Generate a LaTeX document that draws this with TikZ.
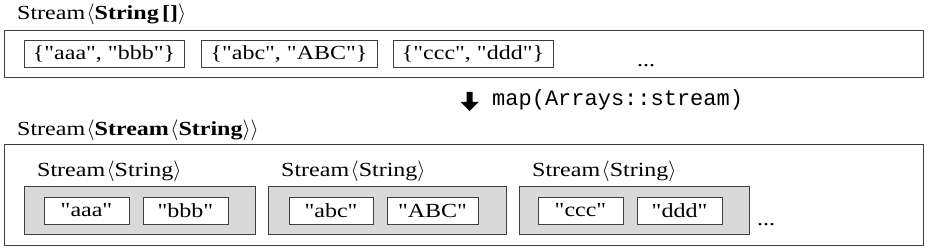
\documentclass[tikz,border=0pt]{standalone}
\usepackage{fontspec}
\setmainfont{Liberation Serif}[FakeStretch=1.2,Ligatures=TeXOff]
\setmonofont{Liberation Mono}
\newcommand\LA{\ensuremath{\langle}}
\newcommand\RA{\ensuremath{\rangle}}
\definecolor{edge}{HTML}{3F3F3F}
\definecolor{shade}{HTML}{D9D9D9}
\begin{document}
\begin{tikzpicture}[x=1pt,y=-1pt,
  every node/.style={font=\fontsize{20}{24}\selectfont},
  outerbox/.style={draw=edge,line width=1pt,fill=white,inner sep=0pt},
  whitebox/.style={draw=edge,line width=1pt,fill=white,inner sep=0pt,minimum height=27pt},
  graybox/.style={draw=edge,line width=1pt,fill=shade,inner sep=0pt,minimum height=48pt},
  label/.style={anchor=west,inner sep=0pt}]
\useasboundingbox (0,0) rectangle (928,251);
% top part
\node[label] (ttitle) at (17,14) {Stream\kern1.5pt\LA\textbf{String\,[]}\RA};
\node[outerbox,minimum width=919pt,minimum height=47pt] (touter) at (463.5,54) {};
\node[whitebox,minimum width=160pt] (t1) at (104,54.5) {\{"aaa", "bbb"\}};
\node[whitebox,minimum width=176pt] (t2) at (289,54.5) {\{"abc", "ABC"\}};
\node[whitebox,minimum width=160pt] (t3) at (473,54.5) {\{"ccc", "ddd"\}};
\node[inner sep=0pt] (tdots) at (646,66) {...};
% arrow
\fill[black] (466.5,92) -- (472.5,92) -- (472.5,102) -- (478.5,102) -- (469.5,111) -- (460.5,102) -- (466.5,102) -- cycle;
\node[label,font=\fontsize{22}{26}\ttfamily] (map) at (492,100) {map(Arrays::stream)};
% bottom part
\node[label] (btitle) at (17,130) {Stream\kern1.5pt\LA\textbf{Stream\kern1.5pt\LA String\RA}\RA};
\node[outerbox,minimum width=919pt,minimum height=101pt] (bouter) at (463.5,194.5) {};
\node[graybox,minimum width=231pt] (g1) at (139.5,210) {};
\node[graybox,minimum width=238pt] (g2) at (387,210) {};
\node[graybox,minimum width=230pt] (g3) at (634,210) {};
\node[label] (l1) at (37,171) {Stream\kern1.5pt\LA String\RA};
\node[label] (l2) at (281,171) {Stream\kern1.5pt\LA String\RA};
\node[label] (l3) at (532,171) {Stream\kern1.5pt\LA String\RA};
\node[whitebox,minimum width=85pt] (w1a) at (86.5,210.5) {"aaa"};
\node[whitebox,minimum width=85pt] (w1b) at (185.5,210.5) {"bbb"};
\node[whitebox,minimum width=84pt] (w2a) at (331,210.5) {"abc"};
\node[whitebox,minimum width=91pt] (w2b) at (432.5,210.5) {"ABC"};
\node[whitebox,minimum width=85pt] (w3a) at (580.5,210.5) {"ccc"};
\node[whitebox,minimum width=85pt] (w3b) at (679.5,210.5) {"ddd"};
\node[inner sep=0pt] (bdots) at (766,225) {...};
\end{tikzpicture}
\end{document}
